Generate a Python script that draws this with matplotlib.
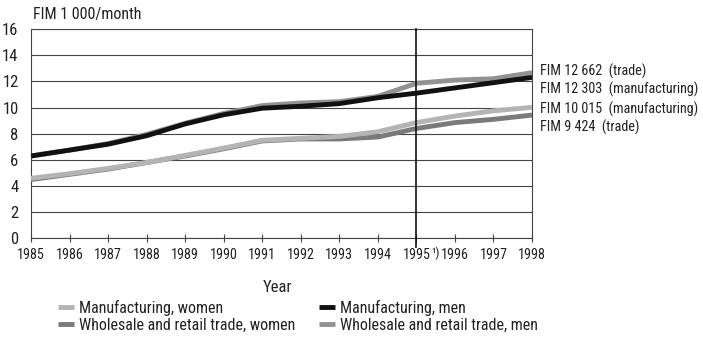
import matplotlib
matplotlib.use("Agg")
import matplotlib.pyplot as plt

plt.rcParams['font.family'] = ['Roboto Condensed', 'DejaVu Sans']

years = [1985, 1986, 1987, 1988, 1989, 1990, 1991, 1992, 1993, 1994, 1995, 1996, 1997, 1998]
manuf_women = [4.6, 4.95, 5.35, 5.8, 6.35, 6.9, 7.5, 7.65, 7.8, 8.15, 8.85, 9.35, 9.75, 10.015]
manuf_men = [6.3, 6.75, 7.2, 7.85, 8.75, 9.45, 9.95, 10.1, 10.3, 10.75, 11.1, 11.5, 11.9, 12.303]
trade_women = [4.5, 4.9, 5.3, 5.8, 6.3, 6.85, 7.45, 7.6, 7.6, 7.75, 8.4, 8.85, 9.1, 9.424]
trade_men = [6.3, 6.75, 7.25, 7.95, 8.8, 9.55, 10.15, 10.35, 10.45, 10.85, 11.85, 12.1, 12.2, 12.662]

end_labels = ["FIM 12 662  (trade)", "FIM 12 303  (manufacturing)",
              "FIM 10 015  (manufacturing)", "FIM 9 424  (trade)"]
yticks = [0, 2, 4, 6, 8, 10, 12, 14, 16]

fig = plt.figure(figsize=(7.03, 3.39), dpi=100)
ax = fig.add_axes([0.0441, 0.2965, 0.7127, 0.618])

c_mw = '#b4b4b4'
c_mm = '#111111'
c_tw = '#7a7a7a'
c_tm = '#929292'
lw = 3.5

l_tw, = ax.plot(years, trade_women, color=c_tw, lw=lw, solid_capstyle='butt', zorder=3,
                label='Wholesale and retail trade, women')
l_mw, = ax.plot(years, manuf_women, color=c_mw, lw=lw, solid_capstyle='butt', zorder=4,
                label='Manufacturing, women')
l_tm, = ax.plot(years, trade_men, color=c_tm, lw=lw, solid_capstyle='butt', zorder=3,
                label='Wholesale and retail trade, men')
l_mm, = ax.plot(years, manuf_men, color=c_mm, lw=lw, solid_capstyle='butt', zorder=4,
                label='Manufacturing, men')

ax.set_xlim(years[0], years[-1])
ax.set_ylim(0, 16)
ax.set_yticks(yticks)
ax.set_yticklabels([str(v) for v in yticks])
ax.set_xticks(years)
ax.set_xticklabels([str(y) for y in years])
ax.grid(axis='y', color='#444444', lw=0.8)
ax.set_axisbelow(True)
for s in ax.spines.values():
    s.set_color('#444444')
    s.set_linewidth(0.8)
ax.tick_params(axis='y', length=0, pad=9, labelsize=12, labelcolor='#222222')
ax.tick_params(axis='x', direction='inout', length=6, width=0.8, color='#444444',
               pad=4, labelsize=10.2, labelcolor='#222222')

# vertical line at 1995, extending slightly below the axis
ax.axvline(1995, color='#111111', lw=1.2, ymin=-0.04, ymax=1, clip_on=False, zorder=5)
ax.annotate('¹)', xy=(1995, 0), xycoords='data', xytext=(10.5, -5.5),
            textcoords='offset points', fontsize=9.5, va='top', ha='left', color='#222222')

ax.text(0.003, 1.035, 'FIM 1 000/month', transform=ax.transAxes, fontsize=11.5,
        ha='left', va='bottom', color='#222222')

label_base = [76, 94, 114, 132]
for t, yp in zip(end_labels, label_base):
    fig.text(540 / 703, 1 - yp / 339, t, fontsize=10.2, ha='left', va='baseline', color='#222222')

fig.text(277.5 / 703, 1 - 288 / 339, 'Year', fontsize=12, ha='center', va='center', color='#222222')

leg = fig.legend(handles=[l_mw, l_tw, l_mm, l_tm], ncol=2, loc='upper left',
                 bbox_to_anchor=(58 / 703, 1 - 300 / 339), frameon=False,
                 fontsize=11.5, handlelength=1.0, handletextpad=0.3, columnspacing=1.5,
                 labelspacing=0.1, borderaxespad=0, borderpad=0)
for h in leg.legend_handles:
    h.set_linewidth(3.5)
for t in leg.get_texts():
    t.set_color('#222222')

fig.savefig('out.png', dpi=100)
